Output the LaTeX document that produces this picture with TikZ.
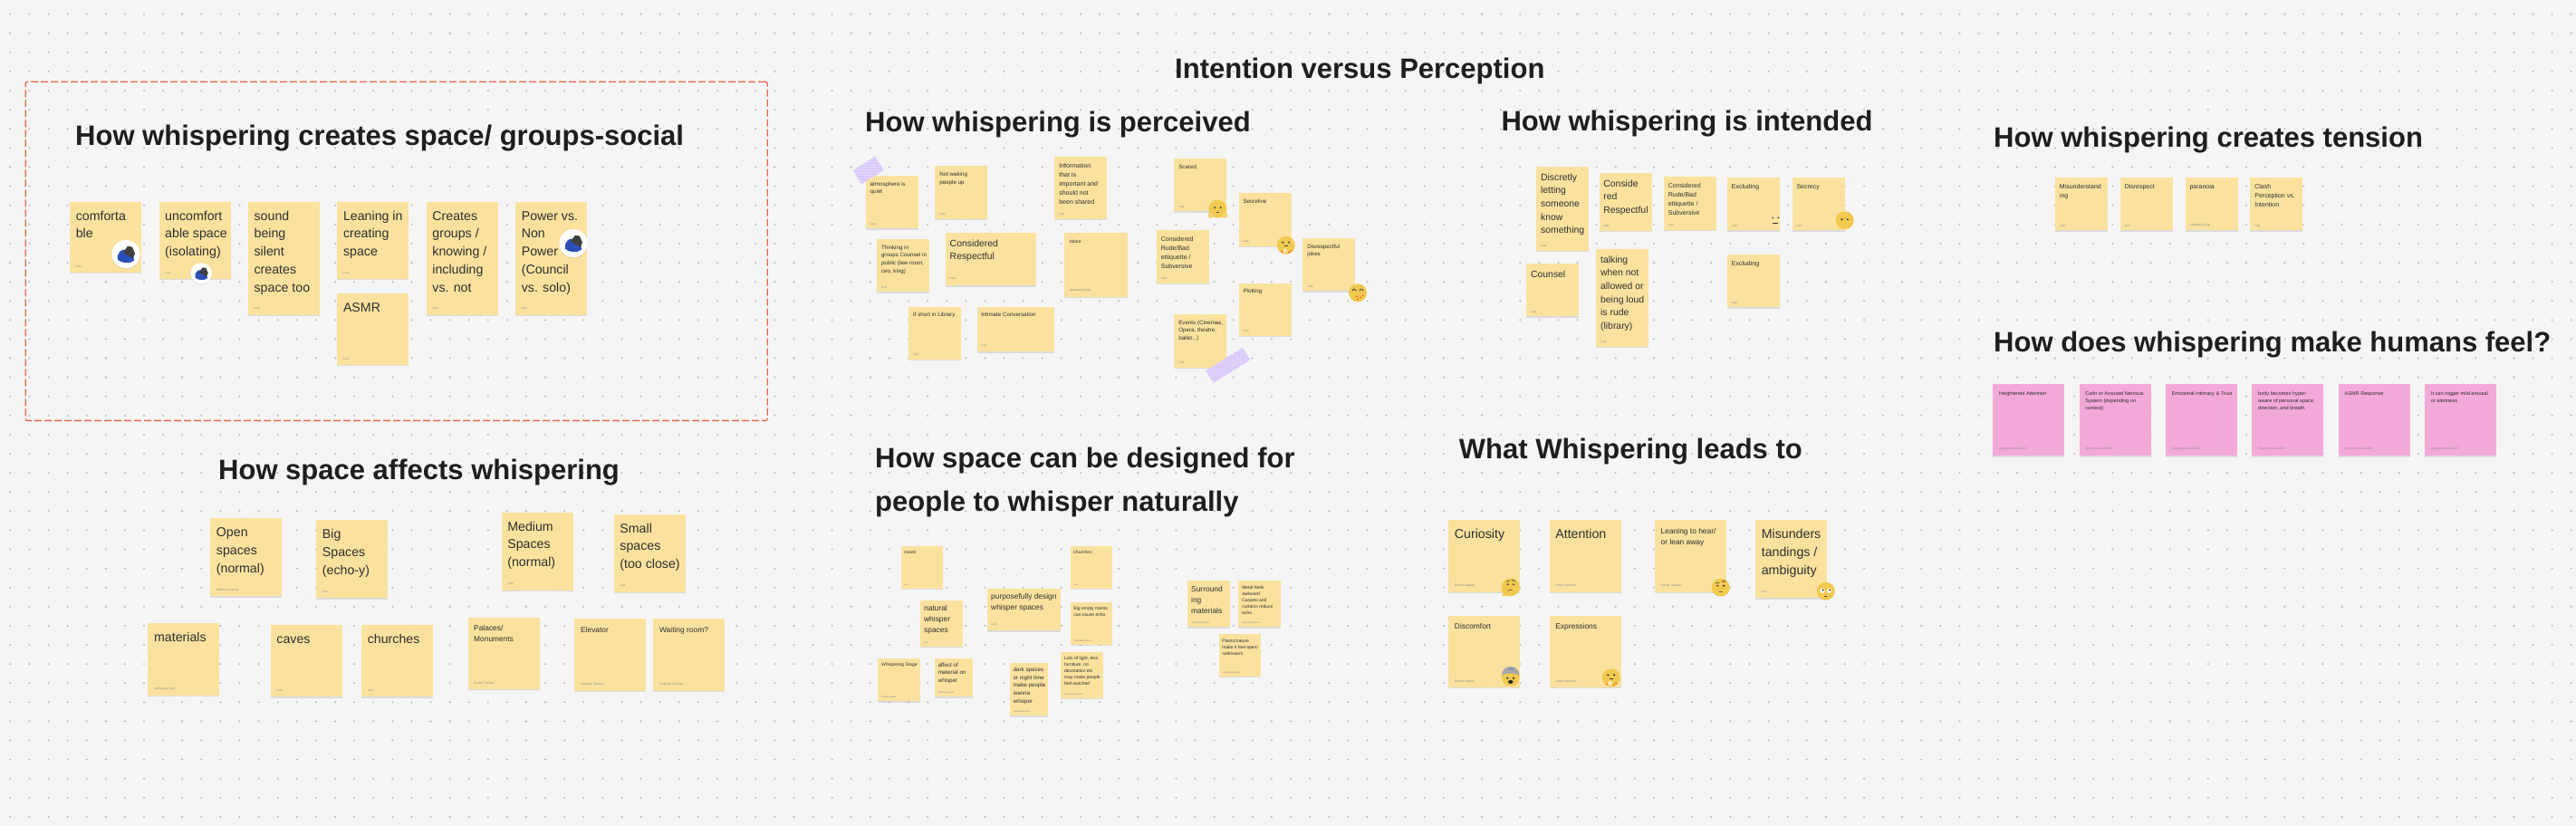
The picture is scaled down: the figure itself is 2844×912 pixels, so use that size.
\documentclass[tikz,border=0pt]{standalone}
\usepackage{xcolor}
\usepackage{fontspec}
\setmainfont{Liberation Sans}
\usetikzlibrary{positioning, shadows, patterns}

\definecolor{boardbg}{HTML}{F5F5F5}
\definecolor{griddot}{HTML}{B8B8B8}
\definecolor{framered}{HTML}{E2694C}
\definecolor{notefill}{HTML}{FAE29E}
\definecolor{pinkfill}{HTML}{F3A9D8}
\definecolor{headink}{HTML}{1E1E1E}
\definecolor{noteink}{HTML}{2E2E2E}
\definecolor{tapelilac}{HTML}{D6C4FA}
\definecolor{facegold}{HTML}{F1C94F}
\definecolor{mammothblue}{HTML}{2A50B8}

% note text: width, height, body, author
\newdimen\notepad
\newcommand{\notebody}[4]{\notepad=#1pt \ifdim#2pt<\notepad \notepad=#2pt\fi \notepad=.085\notepad
    \parbox[c][#2pt][t]{#1pt}{\raggedright\leftskip=\notepad
    \vspace*{\notepad}\strut #3\par\vfill
    {\color{black!45}\ifdim#1pt<50pt \fontsize{2.6}{3.2}\else\fontsize{3.4}{4}\fi\selectfont #4\par}\vspace*{.07\dimexpr#1pt\relax}}}

\tikzset{
    mammoth/.pic={
        \fill[white, drop shadow={shadow xshift=0pt, shadow yshift=-1pt, opacity=.2}] (0,0) circle (15.6pt);
        \fill[mammothblue] (-9,6) .. controls (-10,-2) and (-5,-6) .. (0,-5) .. controls (6,-4) and (9,2) .. (9,7) .. controls (4,11) and (-5,10) .. (-9,6);
        \fill[black!75] (-3,-2) -- (2,-9) -- (7,-8) -- (10,-1) -- (8,4) -- (3,2) -- cycle;
        \fill[white] (-7,9) -- (1,10) -- (5,12) -- (-3,12) -- cycle;
    },
    hugface/.pic={
        \fill[facegold] (0,0) circle (10pt);
        \fill[black!75] (-3.2,-1.5) circle (1.1pt) (3.2,-1.5) circle (1.1pt);
        \draw[black!75, line width=.6pt] (-1.2,3.2) -- (1.2,3.2);
        \fill[facegold!80!white] (-8,7) circle (3.2pt) (8,7) circle (3.2pt);
    },
    blushface/.pic={
        \fill[facegold] (0,0) circle (10pt);
        \fill[black!75] (-3.4,-3) circle (1.2pt) (3.4,-3) circle (1.2pt);
        \draw[black!75, line width=.6pt] (-2,1) -- (2,1);
        \fill[red!70!orange] (-4.5,7) circle (.8pt) (-1,6.5) circle (.8pt) (3,8) circle (.8pt) (5.5,6) circle (.8pt);
        \fill[white!60!facegold] (-1,6) circle (2.5pt);
    },
    jokeface/.pic={
        \fill[facegold] (0,0) circle (10pt);
        \draw[black!75, line width=.8pt] (-6,-2) arc (180:0:2pt) (2,-2) arc (180:0:2pt);
        \fill[red!70!orange] (-1,4) circle (.8pt) (3,5) circle (.8pt) (5.5,3) circle (.8pt) (0,7) circle (.8pt);
    },
    blankface/.pic={
        \fill[facegold] (0,0) circle (10pt);
        \fill[black!80] (-3.2,-1) circle (1.1pt) (3.2,-1) circle (1.1pt);
    },
    hiddenface/.pic={
        \fill[black!60] (-3,-3.5) circle (1.1pt) (3,-3.5) circle (1.1pt);
        \draw[black!80, line width=.8pt] (-3,2.5) -- (3,2.5);
    },
    thinkface/.pic={
        \fill[facegold] (0,0) circle (10pt) (-9,6) -- (-9,10) -- (-3,9) -- cycle;
        \fill[black!75] (-3,-3) circle (1.1pt) (3.2,-3) circle (1.1pt);
        \draw[black!75, line width=.6pt] (-5,-6) -- (-1,-7) (1,-8) -- (5.5,-6.5) (-3,4) -- (2,2.5);
    },
    browface/.pic={
        \fill[facegold] (0,0) circle (10pt);
        \fill[black!75] (-3.4,-2) circle (1.2pt) (3.4,-2) circle (1.2pt);
        \draw[black!75, line width=.6pt] (-5.5,-5) -- (-1.5,-5) (1.5,-6) arc (160:20:2pt) (-2,4.5) -- (2,4.5);
    },
    rollface/.pic={
        \fill[facegold] (0,0) circle (10pt);
        \fill[white] (-3.8,-.5) circle (2.6pt) (3.8,-.5) circle (2.6pt);
        \fill[black] (-3,-1.2) circle (1pt) (4.6,-1.2) circle (1pt);
        \fill[black!70] (-1.5,5) rectangle (1.5,6.5);
    },
    screamface/.pic={
        \fill[facegold] (0,0) circle (10pt);
        \fill[black!35] (-9.8,-2) arc (180:0:9.8pt) .. controls (5,-5) and (-5,-5) .. cycle;
        \draw[mammothblue!70, line width=.7pt] (-3,-9) -- (3,-9);
        \fill[black!85] (-3.4,1) circle (1.2pt) (3.4,1) circle (1.2pt) (0,5.2) ellipse (2.8pt and 2pt);
    },
}

\begin{document}
\begin{tikzpicture}[x=1pt, y=-1pt,
    note/.style={rectangle, fill=notefill, inner sep=0pt, text=noteink, align=left, anchor=north west,
        drop shadow={shadow xshift=0pt, shadow yshift=-1.5pt, opacity=.22}},
    pinknote/.style={note, fill=pinkfill, font=\fontsize{5.6}{8}\selectfont},
    textxl/.style={font=\fontsize{14.2}{19.8}\selectfont},
    textl/.style={font=\fontsize{10.4}{14.6}\selectfont},
    textm/.style={font=\fontsize{8.4}{12}\selectfont},
    texts/.style={font=\fontsize{7}{10}\selectfont},
    textxs/.style={font=\fontsize{6.2}{8.7}\selectfont},
    textxxs/.style={font=\fontsize{5}{7}\selectfont},
    heading/.style={anchor=base west, inner sep=0pt, text=headink, font=\fontsize{31}{48}\selectfont\bfseries},
    spaceframe/.style={rectangle, draw=framered, line width=1.3pt, dash pattern=on 8pt off 3pt, rounded corners=2pt,
        anchor=north west, minimum width=819pt, minimum height=374pt},
    tape/.style={rectangle, fill=tapelilac, inner sep=0pt, postaction={pattern=crosshatch dots, pattern color=white}}]

    % Board with dot grid
    \useasboundingbox (0,0) rectangle (2844,912);
    \fill[boardbg] (0,0) rectangle (2844,912);
    \foreach \i in {0,...,134}
        \foreach \j in {0,...,42}
            \fill[griddot] (11.3+21.1*\i,15.7+21.1*\j) circle (1.1pt);

    % Main title
    \node[heading] (maintitle) at (1297,87) {Intention versus Perception};

    % Space and groups
    \node[spaceframe] (socialframe) at (27.5,89.7) {};
    \node[heading] (socialhead) at (83,161) {How whispering creates space/ groups-social};
    \node[note, textxl] (comfortable) at (76.9,222.3) {\notebody{79}{78.4}{comforta\\ble}{Luis}};
    \node[note, textxl, right=19pt of comfortable.north east, anchor=north west] (uncomfortable) {\notebody{79}{85.4}{uncomfort\\able space\\(isolating)}{Luis}};
    \node[note, textxl, right=19pt of uncomfortable.north east, anchor=north west] (silentsound) {\notebody{79}{125}{sound\\being\\silent\\creates\\space too}{Luis}};
    \node[note, textxl, right=19pt of silentsound.north east, anchor=north west] (leaningin) {\notebody{79}{85.4}{Leaning in\\creating\\space}{Luis}};
    \node[note, textxl, below=15.5pt of leaningin] (asmrsound) {\notebody{79}{79}{ASMR}{Luis}};
    \node[note, textxl, right=19pt of leaningin.north east, anchor=north west] (creategroups) {\notebody{79}{125}{Creates\\groups /\\knowing /\\including\\vs. not}{Luis}};
    \node[note, textxl, right=19pt of creategroups.north east, anchor=north west] (powernon) {\notebody{79}{125}{Power vs.\\Non\\Power\\(Council\\vs. solo)}{Luis}};
    \pic at (139,280.7) {mammoth};
    \pic[scale=.75] at (222.2,302) {mammoth};
    \pic at (633,268.7) {mammoth};

    % Perceived
    \node[heading] (perceivedhead) at (955,146) {How whispering is perceived};
    \node[note, textxs] (atmosphere) at (955.6,194) {\notebody{58}{58}{atmosphere is\\quiet}{Luis}};
    \node[note, textxs] (notwaking) at (1032.2,183.3) {\notebody{58}{58}{Not waking\\people up}{Luis}};
    \node[note, texts] (information) at (1164.2,173) {\notebody{58}{68.3}{Information\\that is\\important and\\should not\\been shared}{Luis}};
    \node[note, textxs] (scared) at (1296.2,175) {\notebody{58}{58}{Scared}{Luis}};
    \node[note, textxs] (secretive) at (1367.4,213) {\notebody{58}{58.3}{Secretive}{Luis}};
    \node[note, textxs] (thinkgroups) at (967.9,264) {\notebody{58}{58}{Thinking in\\groups Counsel in\\public (law room,\\ceo, king)}{Luis}};
    \node[note, textl] (respectful) at (1043.6,257) {\notebody{100}{58}{Considered\\Respectful}{Luis}};
    \node[note, textxxs] (taboo) at (1174.9,257) {\notebody{69.6}{70.3}{taboo}{Aishwarya Gaji}};
    \node[note, texts] (rudeseen) at (1276.7,254) {\notebody{58}{58.3}{Considered\\Rude/Bad\\ettiquette /\\Subversive}{Luis}};
    \node[note, textxs] (disrespectful) at (1438.2,263) {\notebody{58}{58}{Disrespectful\\jokes}{Luis}};
    \node[note, textxs] (plotting) at (1367.4,312.7) {\notebody{58}{58}{Plotting}{Luis}};
    \node[note, textxs] (shortlibrary) at (1003.1,338.7) {\notebody{57.4}{58}{If short in Library}{Luis}};
    \node[note, textxs] (intimate) at (1078.9,338.7) {\notebody{85.3}{49.3}{Intimate Conversation}{Luis}};
    \node[note, textxs] (events) at (1296.2,347) {\notebody{58}{58.3}{Events (Cinemas,\\Opera, theatre,\\ballet...)}{Luis}};
    \node[tape, rotate=32, minimum width=29pt, minimum height=18pt] (tapetop) at (958.7,188) {};
    \node[tape, rotate=32, minimum width=48pt, minimum height=16pt] (tapebottom) at (1355.7,403.3) {};
    \pic at (1344.4,230.7) {hugface};
    \pic at (1419.8,270.7) {blushface};
    \pic at (1499,323.3) {jokeface};

    % Intended
    \node[heading] (intendedhead) at (1657.3,145) {How whispering is intended};
    \node[note, textl] (discretely) at (1696,184) {\notebody{58}{92.7}{Discretly\\letting\\someone\\know\\something}{Luis}};
    \node[note, textl] (consideredred) at (1765.3,190.7) {\notebody{58}{63.6}{Conside\\red\\Respectful}{Luis}};
    \node[note, texts] (rudeaim) at (1836.7,195) {\notebody{58}{58.3}{Considered\\Rude/Bad\\ettiquette /\\Subversive}{Luis}};
    \node[note, texts] (excludingtop) at (1906.7,196) {\notebody{58}{58}{Excluding}{Luis}};
    \node[note, texts, right=13.3pt of excludingtop] (secrecy) {\notebody{58}{58}{Secrecy}{Luis}};
    \node[note, textl] (counsel) at (1685,291) {\notebody{58}{58}{Counsel}{Luis}};
    \node[note, textl] (talking) at (1762,275) {\notebody{58}{107.3}{talking\\when not\\allowed or\\being loud\\is rude\\(library)}{Luis}};
    \node[note, texts] (excludinglow) at (1906.7,281) {\notebody{58}{58}{Excluding}{Luis}};
    \pic at (1960.3,244) {hiddenface};
    \pic at (2036.7,243.3) {blankface};

    % Tension
    \node[heading] (tensionhead) at (2201,163) {How whispering creates tension};
    \node[note, texts] (misunderstand) at (2268.8,196) {\notebody{58}{58}{Misunderstand\\ing}{Luis}};
    \node[note, texts, right=13.4pt of misunderstand] (disrespect) {\notebody{58}{58}{Disrespect}{Luis}};
    \node[note, texts, right=13.4pt of disrespect] (paranoia) {\notebody{58}{58}{paranoia}{Aishwarya Gaji}};
    \node[note, texts, right=13.4pt of paranoia] (clash) {\notebody{58}{58}{Clash\\Perception vs.\\Intention}{Luis}};

    % Feelings
    \node[heading] (feelhead) at (2201,388) {How does whispering make humans feel?};
    \node[pinknote] (attention) at (2200,424) {\notebody{79}{79}{Heightened Attention}{@ugreen/04 202557}};
    \node[pinknote, right=16pt of attention] (nervous) {\notebody{79}{79}{Calm or Aroused Nervous\\System (depending on\\context)}{@ugreen/04 202557}};
    \node[pinknote, right=16pt of nervous] (intimacy) {\notebody{79}{79}{Emotional Intimacy \& Trust}{@ugreen/04 202557}};
    \node[pinknote, right=16pt of intimacy] (hyperaware) {\notebody{79}{79}{body becomes hyper-\\aware of personal space,\\direction, and breath.}{@ugreen/04 202557}};
    \node[pinknote, right=16pt of hyperaware] (asmrfeel) {\notebody{79}{79}{ASMR Response}{@ugreen/04 202557}};
    \node[pinknote, right=16pt of asmrfeel] (arousal) {\notebody{79}{79}{It can trigger mild arousal\\or alertness}{@ugreen/04 202557}};

    % Space affects whispering
    \node[heading] (affecthead) at (241,529) {How space affects whispering};
    \node[note, textxl] (openspaces) at (232,572) {\notebody{79}{86}{Open\\spaces\\(normal)}{Vidhoot Sharma}};
    \node[note, textxl] (bigspaces) at (349,574) {\notebody{79}{86}{Big\\Spaces\\(echo-y)}{Luis}};
    \node[note, textxl] (mediumspaces) at (553.4,565.3) {\notebody{79}{86}{Medium\\Spaces\\(normal)}{Luis}};
    \node[note, textxl] (smallspaces) at (677.5,567.3) {\notebody{79}{86}{Small\\spaces\\(too close)}{Luis}};
    \node[note, textxl] (materials) at (163.2,688) {\notebody{79}{79.3}{materials}{Aishwarya Gaji}};
    \node[note, textxl] (cavesbig) at (298.5,689.7) {\notebody{79}{79.3}{caves}{Luis}};
    \node[note, textxl, right=21pt of cavesbig] (churchesbig) {\notebody{79}{79.3}{churches}{Luis}};
    \node[note, textm] (palaces) at (516.3,681.3) {\notebody{79}{79.3}{Palaces/\\Monuments}{Drishti Talesari}};
    \node[note, textm] (elevator) at (634.2,683) {\notebody{79}{79.3}{Elevator}{Vishvadi Sharma}};
    \node[note, textm, right=7.6pt of elevator] (waitingroom) {\notebody{79}{79.3}{Waiting room?}{Vishvadi Sharma}};

    % Designed spaces
    \node[heading] (designhead) at (966,516) {How space can be designed for};
    \node[heading] (designheadb) at (966,564) {people to whisper naturally};
    \node[note, textxxs] (cavessmall) at (994.3,602.7) {\notebody{46.7}{46.7}{caves}{Luis}};
    \node[note, textxxs] (churchessmall) at (1181.3,602.7) {\notebody{46.7}{46.7}{churches}{Luis}};
    \node[note, textm] (purposeful) at (1090,649.3) {\notebody{81}{46.7}{purposefully design\\whisper spaces}{Luis}};
    \node[note, textm] (naturalspaces) at (1016,662.3) {\notebody{46.7}{51}{natural\\whisper\\spaces}{Luis}};
    \node[note, textxxs] (bigempty) at (1181.3,664.7) {\notebody{46.7}{46.7}{Big empty rooms\\can cause echo}{Vishvadi Sharma}};
    \node[note, textxxs] (whisperstage) at (969,726.7) {\notebody{47}{47.3}{Whispering Stage}{Drishti Talesari}};
    \node[note, textxs] (materialeffect) at (1032,726.3) {\notebody{42}{42.7}{affect of\\material on\\whisper}{Aishwarya Gaji}};
    \node[note, textxs] (darkspaces) at (1115,731.7) {\notebody{42}{58.3}{dark spaces\\or night time\\make people\\wanna\\whisper}{Aishwarya Gaji}};
    \node[note, textxxs] (lotslight) at (1171,719.7) {\notebody{46.7}{51}{Lots of light, less\\furniture, no\\decoration etc\\may make people\\feel watched}{Vishvadi Sharma}};
    \node[note, textm] (surrounding) at (1311,641) {\notebody{47}{51}{Surround\\ing\\materials}{Vishvadi Sharma}};
    \node[note, textxxs, right=8.7pt of surrounding] (metalfeels) {\notebody{46.7}{51}{Metal feels\\awkward\\Carpets and\\curtains reduce\\echo}{Vishvadi Sharma}};
    \node[note, textxxs] (plantsnature) at (1345.3,700) {\notebody{46.7}{46.7}{Plants/nature\\make it feel open/\\safe/warm}{Vishvadi Sharma}};

    % Leads to
    \node[heading] (leadshead) at (1610.7,506) {What Whispering leads to};
    \node[note, textxl] (curiosity) at (1599,574) {\notebody{79}{79.3}{Curiosity}{Drishti Talesari}};
    \node[note, textxl, right=32pt of curiosity] (attentionled) {\notebody{79}{79.3}{Attention}{Drishti Talesari}};
    \node[note, textm, right=37pt of attentionled] (leaninghear) {\notebody{79}{79.3}{Leaning to hear/\\or lean away}{Drishti Talesari}};
    \node[note, textxl, right=31.7pt of leaninghear.north east, anchor=north west] (misunderstandings) {\notebody{79}{86}{Misunders\\tandings /\\ambiguity}{Luis}};
    \node[note, textm] (discomfort) at (1599,679.3) {\notebody{79}{79.3}{Discomfort}{Drishti Talesari}};
    \node[note, textm, right=32pt of discomfort] (expressions) {\notebody{79}{79.3}{Expressions}{Drishti Talesari}};
    \pic at (1667.7,648.3) {thinkface};
    \pic at (1899.7,648.7) {browface};
    \pic at (2015.7,652.7) {rollface};
    \pic at (1667.7,747.7) {screamface};
    \pic at (1778.7,748.3) {blushface};

\end{tikzpicture}
\end{document}
